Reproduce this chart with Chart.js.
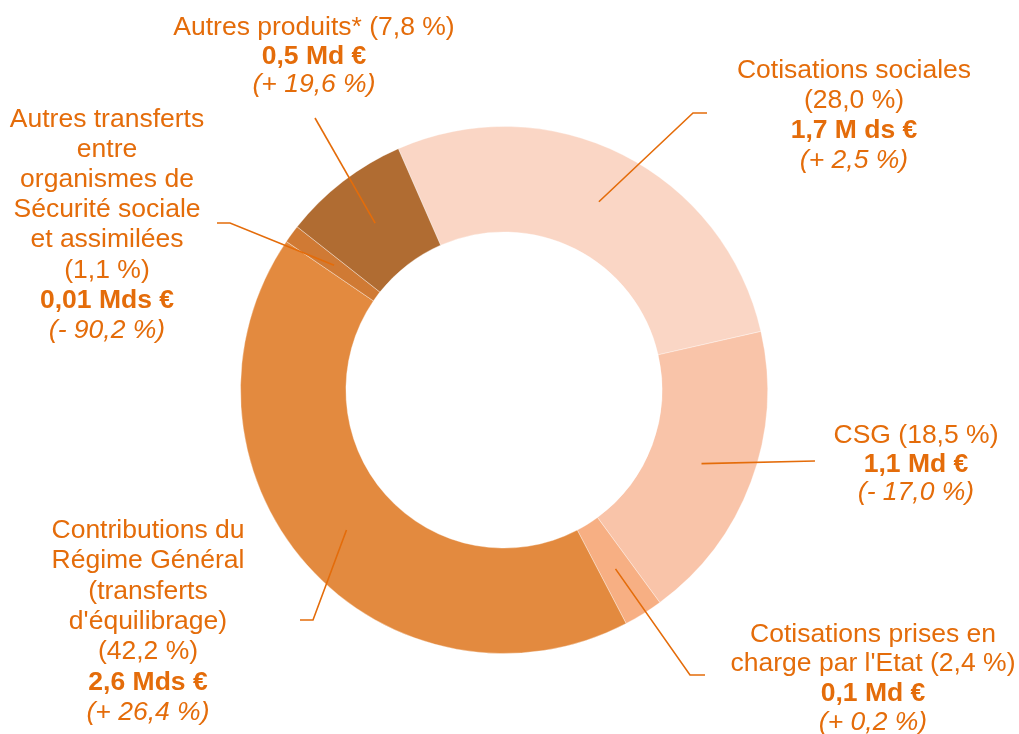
<!DOCTYPE html>
<html lang="fr">
<head>
  <meta charset="UTF-8">
  <title>Produits</title>
  <script src="https://cdn.jsdelivr.net/npm/chart.js"></script>
  <style>
    body {
      margin: 0;
      background: #fff;
    }

    .wrap {
      position: relative;
      width: 1019px;
      height: 734px;
    }
  </style>
</head>
<body>
  <div class="wrap"><canvas id="g"></canvas></div>

  <script>
    // donnees
    const categories = [
      'Cotisations sociales',
      'CSG',
      "Cotisations prises en charge par l'Etat",
      'Contributions du Régime Général (transferts d\'équilibrage)',
      'Autres transferts entre organismes de Sécurité sociale et assimilées',
      'Autres produits*'
    ];
    const shares = [28.0, 18.5, 2.4, 42.2, 1.1, 7.8];
    const amounts = ['1,7 M ds €', '1,1 Md €', '0,1 Md €', '2,6 Mds €', '0,01 Mds €', '0,5 Md €'];
    const changes = ['(+ 2,5 %)', '(- 17,0 %)', '(+ 0,2 %)', '(+ 26,4 %)', '(- 90,2 %)', '(+ 19,6 %)'];
    const colors = ['#FAD6C5', '#F9C4A9', '#F7AF83', '#E38A3F', '#D07A34', '#B06C32'];

    // texte des etiquettes (le % est ajoute sur la derniere ligne si inline)
    const nameLines = [
      [['Cotisations sociales'], false],
      [['CSG'], true],
      [['Cotisations prises en', "charge par l'Etat"], true],
      [['Contributions du', 'Régime Général', '(transferts', "d'équilibrage)"], false],
      [['Autres transferts', 'entre', 'organismes de', 'Sécurité sociale', 'et assimilées'], false],
      [['Autres produits*'], true]
    ];

    // position des etiquettes: x centre, 1ere ligne de base, interligne
    const labelPos = [
      [854, 78, 30],
      [916, 443, 28.5],
      [873, 642, 29.3],
      [148, 538, 30.3],
      [107, 127, 30.1],
      [314, 35, 28.5]
    ];
    // traits de rappel apres le point du segment
    const leaders = [
      [[693, 113], [707, 113]],
      [[815, 461]],
      [[690, 675], [705, 675]],
      [[313, 620], [300, 620]],
      [[230, 223], [217, 223]],
      [[315, 118]]
    ];

    const orange = '#E46C0A';
    const fam = '"Liberation Sans", Arial, sans-serif';

    function pct(v) {
      return '(' + v.toFixed(1).replace('.', ',') + ' %)';
    }

    const labels = {
      id: 'labels',
      afterDraw(ch) {
        const x = ch.ctx;
        const arcs = ch.getDatasetMeta(0).data;
        x.save();
        x.strokeStyle = orange;
        x.lineWidth = 1.6;
        arcs.forEach((a, i) => {
          const p = a.getCenterPoint();
          x.beginPath();
          x.moveTo(p.x, p.y);
          leaders[i].forEach(q => x.lineTo(q[0], q[1]));
          x.stroke();
        });

        x.fillStyle = orange;
        x.textAlign = 'center';
        x.textBaseline = 'alphabetic';
        nameLines.forEach((n, i) => {
          const rows = [];
          const l = n[0].slice();
          if (n[1]) {
            l[l.length - 1] = l[l.length - 1] + ' ' + pct(shares[i]);
            l.forEach(t => rows.push([t, '']));
          } else {
            l.forEach(t => rows.push([t, '']));
            rows.push([pct(shares[i]), '']);
          }
          rows.push([amounts[i], 'bold ']);
          rows.push([changes[i], 'italic ']);
          const [cx, by, lh] = labelPos[i];
          rows.forEach((r, k) => {
            x.font = r[1] + '26.5px ' + fam;
            x.fillText(r[0], cx, by + k * lh);
          });
        });
        x.restore();
      }
    };

    new Chart(document.getElementById('g'), {
      type: 'doughnut',
      data: {
        labels: categories,
        datasets: [{
          data: shares,
          backgroundColor: colors,
          borderColor: 'rgba(255,255,255,0.35)',
          borderWidth: 1
        }]
      },
      options: {
        responsive: true,
        maintainAspectRatio: false,
        animation: false,
        rotation: -23.65,
        cutout: '60%',
        layout: {
          padding: { left: 240, right: 251, top: 126, bottom: 80 }
        },
        plugins: {
          legend: { display: false },
          tooltip: { enabled: false }
        }
      },
      plugins: [labels]
    });
  </script>
</body>
</html>
